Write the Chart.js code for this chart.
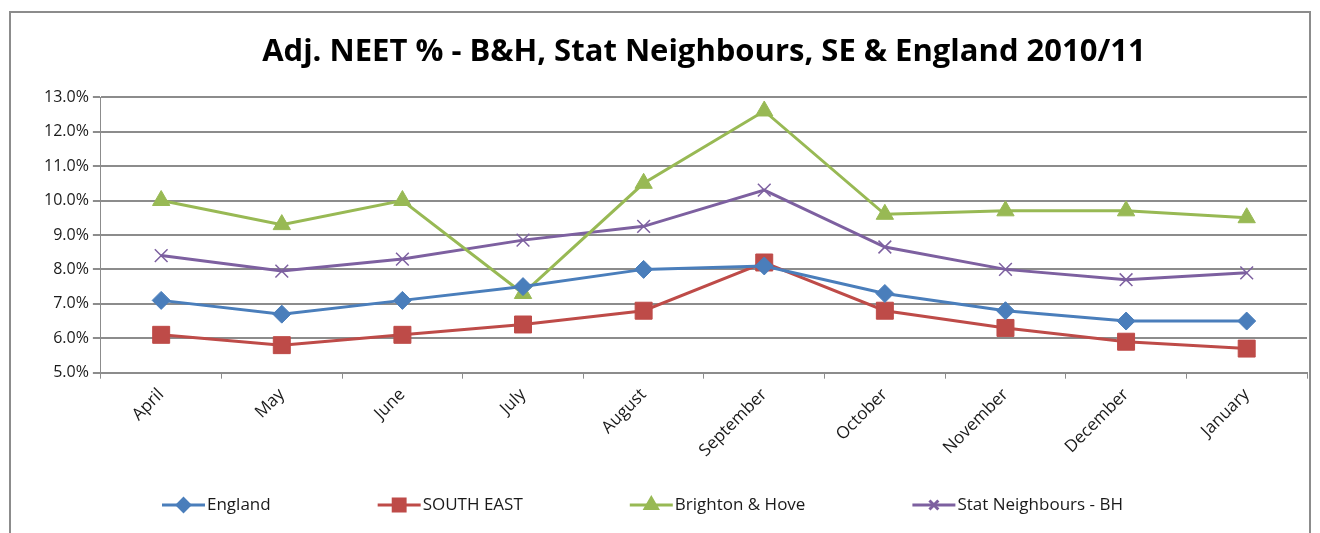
<!DOCTYPE html>
<html>
<head>
<meta charset="utf-8">
<script src="https://cdn.jsdelivr.net/npm/chart.js@4/dist/chart.umd.min.js"></script>
<style>
  body { margin: 0; background: #fff; }
  #wrap { position: relative; width: 1320px; height: 533px; overflow: hidden; }
  #frame { position: absolute; left: 9px; top: 11px; width: 1302px; height: 540px; border: 2px solid #8c8c8c; box-sizing: border-box; }
  canvas { position: absolute; left: 0; top: 0; }
</style>
</head>
<body>
<div id="wrap">
  <div id="frame"></div>
  <canvas id="mycanvas" width="1320" height="533"></canvas>
</div>
<script>
var months = ['April', 'May', 'June', 'July', 'August', 'September', 'October', 'November', 'December', 'January'];
var england = [7.1, 6.7, 7.1, 7.5, 8.0, 8.1, 7.3, 6.8, 6.5, 6.5];
var southEast = [6.1, 5.8, 6.1, 6.4, 6.8, 8.2, 6.8, 6.3, 5.9, 5.7];
var brighton = [10.0, 9.3, 10.0, 7.3, 10.5, 12.6, 9.6, 9.7, 9.7, 9.5];
var statNeighbours = [8.4, 7.95, 8.3, 8.85, 9.25, 10.3, 8.65, 8.0, 7.7, 7.9];

var FONT = '"Open Sans", "DejaVu Sans", sans-serif';

function series(label, data, color, style, radius)
{
  return {
    label: label,
    data: data,
    borderColor: color,
    backgroundColor: color,
    borderWidth: 3,
    pointStyle: style,
    pointRadius: radius,
    pointHoverRadius: radius,
    pointBorderWidth: style == 'crossRot' ? 1.5 : 1,
    tension: 0
  };
}

// legend drawn by hand: line with marker in the middle, fixed gap between items
var legendPlugin = {
  id: 'excelLegend',
  afterDraw: function(chart)
  {
    var ctx = chart.ctx;
    var sets = chart.data.datasets;
    var lineW = 43, gap = 107, y = 505;
    ctx.save();
    ctx.font = '17px ' + FONT;
    var widths = sets.map(function(d) { return lineW + 2 + ctx.measureText(d.label).width; });
    var x = 162;
    for (var i = 0; i < sets.length; i++)
    {
      var d = sets[i];
      ctx.strokeStyle = d.borderColor;
      ctx.fillStyle = d.borderColor;
      ctx.lineWidth = 3;
      ctx.beginPath();
      ctx.moveTo(x, y);
      ctx.lineTo(x + lineW, y);
      ctx.stroke();
      Chart.helpers.drawPoint(ctx, {
        pointStyle: d.pointStyle,
        radius: d.pointRadius * 0.7,
        borderWidth: d.pointBorderWidth
      }, x + lineW / 2, y);
      ctx.fillStyle = '#1a1a1a';
      ctx.textBaseline = 'middle';
      ctx.fillText(d.label, x + lineW + 2, y);
      x += widths[i] + gap;
    }
    ctx.restore();
  }
};

var ctx = document.getElementById('mycanvas');

var chart = new Chart(ctx,
{
  type: 'line',
  data: {
    labels: months,
    datasets: [
      series('England', england, '#4a7ebb', 'rectRot', 9),
      series('SOUTH EAST', southEast, '#be4b48', 'rect', 12),
      series('Brighton & Hove', brighton, '#98b954', 'triangle', 10),
      series('Stat Neighbours - BH', statNeighbours, '#7d60a0', 'crossRot', 9)
    ]
  },
  options: {
    responsive: false,
    animation: false,
    layout: { padding: { left: 40, right: 13, top: 20, bottom: 66 } },
    plugins: {
      legend: { display: false },
      tooltip: { enabled: false },
      title: {
        display: true,
        fullSize: false,
        text: 'Adj. NEET % - B&H, Stat Neighbours, SE & England 2010/11',
        color: '#000',
        font: { family: FONT, size: 31, weight: 'bold' },
        padding: { top: 14, bottom: 26 }
      }
    },
    scales: {
      x: {
        offset: true,
        grid: { display: true, drawOnChartArea: false, offset: true, tickLength: 6, color: '#8c8c8c', lineWidth: 1 },
        border: { color: '#8c8c8c', width: 2 },
        ticks: {
          minRotation: 45,
          maxRotation: 45,
          color: '#1a1a1a',
          padding: 6,
          font: { family: FONT, size: 17 }
        }
      },
      y: {
        min: 5,
        max: 13,
        grid: { color: '#8c8c8c', lineWidth: 2, tickLength: 8 },
        border: { color: '#8c8c8c', width: 1 },
        ticks: {
          stepSize: 1,
          color: '#1a1a1a',
          padding: 4,
          font: { family: FONT, size: 16 },
          callback: function(v) { return v.toFixed(1) + '%'; }
        }
      }
    }
  },
  plugins: [legendPlugin]
});
</script>
</body>
</html>
